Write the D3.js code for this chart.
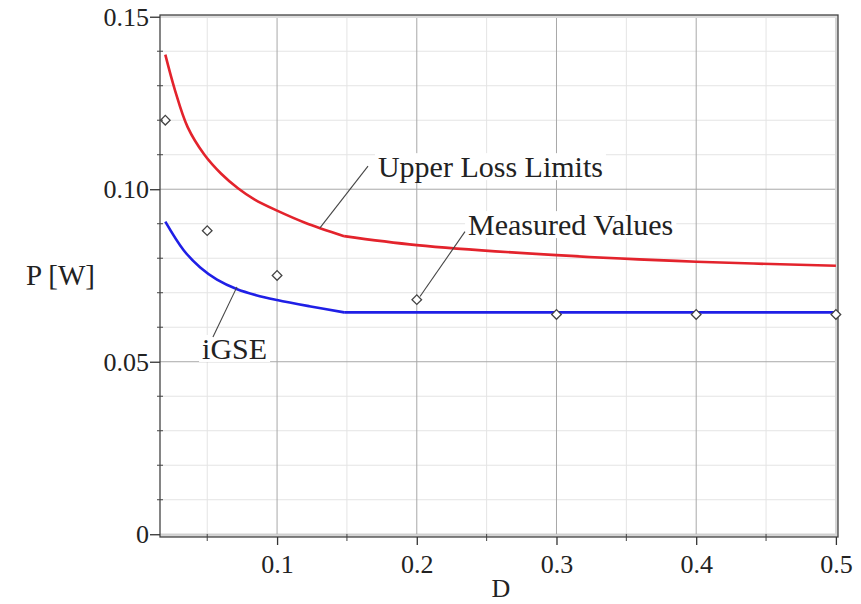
<!DOCTYPE html>
<html>
<head>
<meta charset="utf-8">
<script src="https://cdn.jsdelivr.net/npm/d3@7"></script>
<style>
  body { margin: 0; background: #fff; }
  text { font-family: "Liberation Serif", "Times New Roman", serif; fill: #222; }
</style>
</head>
<body>
<script>
//Width and height
var w = 861;
var h = 604;

// data
var upperD = [0.02, 0.027, 0.036, 0.048, 0.06, 0.072, 0.084, 0.1, 0.12, 0.148, 0.2, 0.3, 0.4, 0.5];
var upperP = [0.139, 0.1286, 0.118, 0.1100, 0.1045, 0.1003, 0.0970, 0.0938, 0.0903, 0.0864, 0.0838, 0.0809, 0.0790, 0.0778];
var igseD = [0.02, 0.033, 0.045, 0.057, 0.071, 0.085, 0.1, 0.123, 0.148, 0.2, 0.3, 0.4, 0.5];
var igseP = [0.0906, 0.0824, 0.0773, 0.0738, 0.0711, 0.0693, 0.0679, 0.0661, 0.0643, 0.0643, 0.0643, 0.0643, 0.0643];
var measD = [0.02, 0.05, 0.1, 0.2, 0.3, 0.4, 0.5];
var measP = [0.120, 0.088, 0.075, 0.068, 0.0637, 0.0637, 0.0637];
var kneeD = 0.148;

// ticks and grid
var xTicks = [0.1, 0.2, 0.3, 0.4, 0.5];
var xTickLabels = ["0.1", "0.2", "0.3", "0.4", "0.5"];
var xMinor = [0.05, 0.15, 0.25, 0.35, 0.45];
var yTicks = [0, 0.05, 0.10, 0.15];
var yTickLabels = ["0", "0.05", "0.10", "0.15"];
var yMinor = [0.01, 0.02, 0.03, 0.04, 0.06, 0.07, 0.08, 0.09, 0.11, 0.12, 0.13, 0.14];

// annotation labels: text, leader from/to and text anchor, in data units
var notes = [
  { text: "Upper Loss Limits", from: [0.1307, 0.0888], to: [0.1651, 0.1067], at: [0.1722, 0.1035] },
  { text: "Measured Values", from: [0.2023, 0.0689], to: [0.2345, 0.0877], at: [0.2367, 0.0867] },
  { text: "iGSE", from: [0.0713, 0.0717], to: [0.0541, 0.0572], at: [0.0463, 0.0508] }
];

var upper = upperD.map(function(d, i) { return { d: d, p: upperP[i] }; });
var igse = igseD.map(function(d, i) { return { d: d, p: igseP[i] }; });
var meas = measD.map(function(d, i) { return { d: d, p: measP[i] }; });

var xScale = d3.scaleLinear().domain([0.0162, 0.5015]).range([160, 838]);
var yScale = d3.scaleLinear().domain([-0.0008, 0.1505]).range([537, 15]);

var svg = d3.select("body")
            .append("svg")
            .attr("width", w)
            .attr("height", h);

var x0 = xScale.range()[0], x1 = xScale.range()[1];
var y0 = yScale.range()[0], y1 = yScale.range()[1];

// minor grid
svg.append("g").selectAll("line")
   .data(xMinor).enter().append("line")
   .attr("x1", function(d) { return xScale(d); }).attr("x2", function(d) { return xScale(d); })
   .attr("y1", y1).attr("y2", y0)
   .attr("stroke", "#e4e4e4").attr("stroke-width", 1);
svg.append("g").selectAll("line")
   .data(yMinor).enter().append("line")
   .attr("x1", x0).attr("x2", x1)
   .attr("y1", function(d) { return yScale(d); }).attr("y2", function(d) { return yScale(d); })
   .attr("stroke", "#e4e4e4").attr("stroke-width", 1);

// major grid
svg.append("g").selectAll("line")
   .data(xTicks).enter().append("line")
   .attr("x1", function(d) { return xScale(d); }).attr("x2", function(d) { return xScale(d); })
   .attr("y1", y1).attr("y2", y0)
   .attr("stroke", "#a8a8a8").attr("stroke-width", 1);
svg.append("g").selectAll("line")
   .data(yTicks).enter().append("line")
   .attr("x1", x0).attr("x2", x1)
   .attr("y1", function(d) { return yScale(d); }).attr("y2", function(d) { return yScale(d); })
   .attr("stroke", "#a8a8a8").attr("stroke-width", 1);

// grey band along the frame (as in the plot)
svg.append("rect")
   .attr("x", x0).attr("y", yScale(0)).attr("width", x1 - x0).attr("height", y0 - yScale(0))
   .attr("fill", "#d6d6d6");
svg.append("rect")
   .attr("x", x1 - 3).attr("y", y1).attr("width", 3).attr("height", y0 - y1)
   .attr("fill", "#d6d6d6");
svg.append("rect")
   .attr("x", x0).attr("y", y1).attr("width", x1 - x0).attr("height", 3)
   .attr("fill", "#dedede");

// frame
svg.append("rect")
   .attr("x", x0).attr("y", y1).attr("width", x1 - x0).attr("height", y0 - y1)
   .attr("fill", "none").attr("stroke", "#444").attr("stroke-width", 1.3);

// curves, split at the knee so the corner stays sharp
var line_generator = d3.line()
                       .x(function(d) { return xScale(d.d); })
                       .y(function(d) { return yScale(d.p); })
                       .curve(d3.curveCatmullRom.alpha(0.5));

function drawCurve(data, color) {
  var left = data.filter(function(d) { return d.d <= kneeD; });
  var right = data.filter(function(d) { return d.d >= kneeD; });
  [left, right].forEach(function(part) {
    svg.append("path")
       .datum(part)
       .attr("d", line_generator)
       .attr("fill", "none")
       .attr("stroke", color)
       .attr("stroke-width", 2.6)
       .attr("stroke-linejoin", "round");
  });
}
drawCurve(upper, "#e3232c");
drawCurve(igse, "#1f1fe6");

// annotations (white box behind text, leader line)
notes.forEach(function(n) {
  var t = svg.append("text")
     .attr("x", xScale(n.at[0]))
     .attr("y", yScale(n.at[1]))
     .attr("font-size", 30)
     .text(n.text);
  var bb = t.node().getBBox();
  svg.insert("rect", function() { return t.node(); })
     .attr("x", bb.x - 3).attr("y", bb.y + 3)
     .attr("width", bb.width + 6).attr("height", bb.height - 6)
     .attr("fill", "#fff");
  svg.append("line")
     .attr("x1", xScale(n.from[0])).attr("y1", yScale(n.from[1]))
     .attr("x2", xScale(n.to[0])).attr("y2", yScale(n.to[1]))
     .attr("stroke", "#444").attr("stroke-width", 1.1);
});

// measured points
svg.append("g").selectAll("path")
   .data(meas).enter().append("path")
   .attr("d", d3.symbol().type(d3.symbolSquare).size(46))
   .attr("transform", function(d) { return "translate(" + xScale(d.d) + "," + yScale(d.p) + ") rotate(45)"; })
   .attr("fill", "#fff")
   .attr("stroke", "#444")
   .attr("stroke-width", 1.3);

// axes
var xAxis = d3.axisBottom(xScale).tickValues(xTicks).tickSize(8)
              .tickFormat(function(d, i) { return xTickLabels[i]; });
var yAxis = d3.axisLeft(yScale).tickValues(yTicks).tickSize(10)
              .tickFormat(function(d, i) { return yTickLabels[i]; });

var gx = svg.append("g")
   .attr("transform", "translate(0," + y0 + ")")
   .call(xAxis);
gx.select(".domain").remove();
gx.selectAll("line").attr("stroke", "#333").attr("stroke-width", 1.3);
gx.selectAll("text").attr("font-size", 26).attr("font-family", "Liberation Serif").attr("fill", "#222").attr("dy", "0.95em");

var gy = svg.append("g")
   .attr("transform", "translate(" + x0 + ",0)")
   .call(yAxis);
gy.select(".domain").remove();
gy.selectAll("line").attr("stroke", "#333").attr("stroke-width", 1.3);
gy.selectAll("text").attr("font-size", 26).attr("font-family", "Liberation Serif").attr("fill", "#222").attr("x", -11);

// minor ticks
svg.append("g").selectAll("line")
   .data(xMinor).enter().append("line")
   .attr("x1", function(d) { return xScale(d); }).attr("x2", function(d) { return xScale(d); })
   .attr("y1", y0 - 3).attr("y2", y0 + 4)
   .attr("stroke", "#444");
svg.append("g").selectAll("line")
   .data(yMinor).enter().append("line")
   .attr("x1", x0 - 3).attr("x2", x0 + 3)
   .attr("y1", function(d) { return yScale(d); }).attr("y2", function(d) { return yScale(d); })
   .attr("stroke", "#444");

// axis titles
svg.append("text")
   .attr("x", 501).attr("y", 597)
   .attr("text-anchor", "middle")
   .attr("font-size", 26)
   .text("D");
svg.append("text")
   .attr("x", 26).attr("y", 285)
   .attr("font-size", 29)
   .text("P [W]");
</script>
</body>
</html>
